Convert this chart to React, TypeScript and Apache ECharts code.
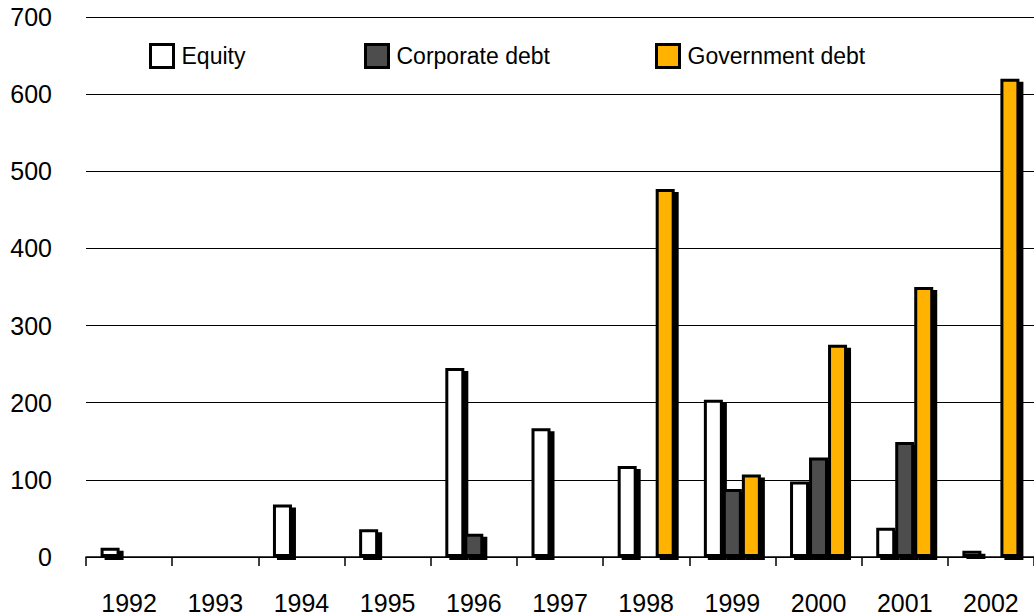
import React, { useEffect, useRef } from "react";
import * as echarts from "echarts";

const years = ["1992", "1993", "1994", "1995", "1996", "1997", "1998", "1999", "2000", "2001", "2002"];
const equity = [12, null, 68, 36, 245, 167, 118, 204, 98, 38, 8];
const corporateDebt = [null, null, null, null, 30, null, null, 88, 129, 149, null];
const governmentDebt = [null, null, null, null, null, null, 477, 107, 275, 350, 620];
const yTicks = { min: 0, max: 700, interval: 100 };

const FONT = "'Liberation Sans', Arial, Helvetica, sans-serif";

export default function App() {
  const ref = useRef<HTMLDivElement>(null);
  useEffect(() => {
    if (!ref.current) return;
    const chart = echarts.init(ref.current, undefined, { renderer: "svg" });
    const barStyle = (color: string) => ({
      color,
      borderColor: "#000",
      borderWidth: 3,
      shadowColor: "#000",
      shadowBlur: 0,
      shadowOffsetX: 4,
      shadowOffsetY: 3,
    });
    const legendCommon = {
      top: 43,
      padding: 0,
      itemWidth: 23,
      itemHeight: 23,
      icon: "rect",
      textStyle: { fontFamily: FONT, fontSize: 23, color: "#000", padding: [0, 0, 0, 3] },
      itemStyle: { borderColor: "#000", borderWidth: 3, shadowBlur: 0, shadowOffsetX: 0, shadowOffsetY: 0, shadowColor: "transparent" },
    };
    chart.setOption({
      animation: false,
      backgroundColor: "#fff",
      legend: [
        { ...legendCommon, left: 149, data: ["Equity"] },
        { ...legendCommon, left: 364, data: ["Corporate debt"] },
        { ...legendCommon, left: 655, data: ["Government debt"] },
      ],
      grid: { left: 86, right: -7, top: 17, bottom: 57, containLabel: false },
      xAxis: {
        type: "category",
        data: years,
        boundaryGap: true,
        axisLine: { lineStyle: { color: "#000", width: 1.5 } },
        axisTick: { show: true, length: 9, inside: false, lineStyle: { color: "#000", width: 1.5 } },
        axisLabel: { fontFamily: FONT, fontSize: 25, color: "#000", margin: 33 },
      },
      yAxis: {
        type: "value",
        min: yTicks.min,
        max: yTicks.max,
        interval: yTicks.interval,
        axisLine: { show: false },
        axisTick: { show: false },
        splitLine: { lineStyle: { color: "#000", width: 1 } },
        axisLabel: { fontFamily: FONT, fontSize: 25, color: "#000", margin: 34 },
      },
      series: [
        { name: "Equity", type: "bar", data: equity, barWidth: 19, barGap: "0%", itemStyle: barStyle("#ffffff") },
        { name: "Corporate debt", type: "bar", data: corporateDebt, barWidth: 19, barGap: "0%", itemStyle: barStyle("#4d4d4d") },
        { name: "Government debt", type: "bar", data: governmentDebt, barWidth: 19, barGap: "0%", itemStyle: barStyle("#ffb200") },
      ],
    });
    return () => chart.dispose();
  }, []);
  return (
    <div
      ref={ref}
      style={{ position: "fixed", left: 0, top: 0, width: 1034, height: 615 }}
    />
  );
}
